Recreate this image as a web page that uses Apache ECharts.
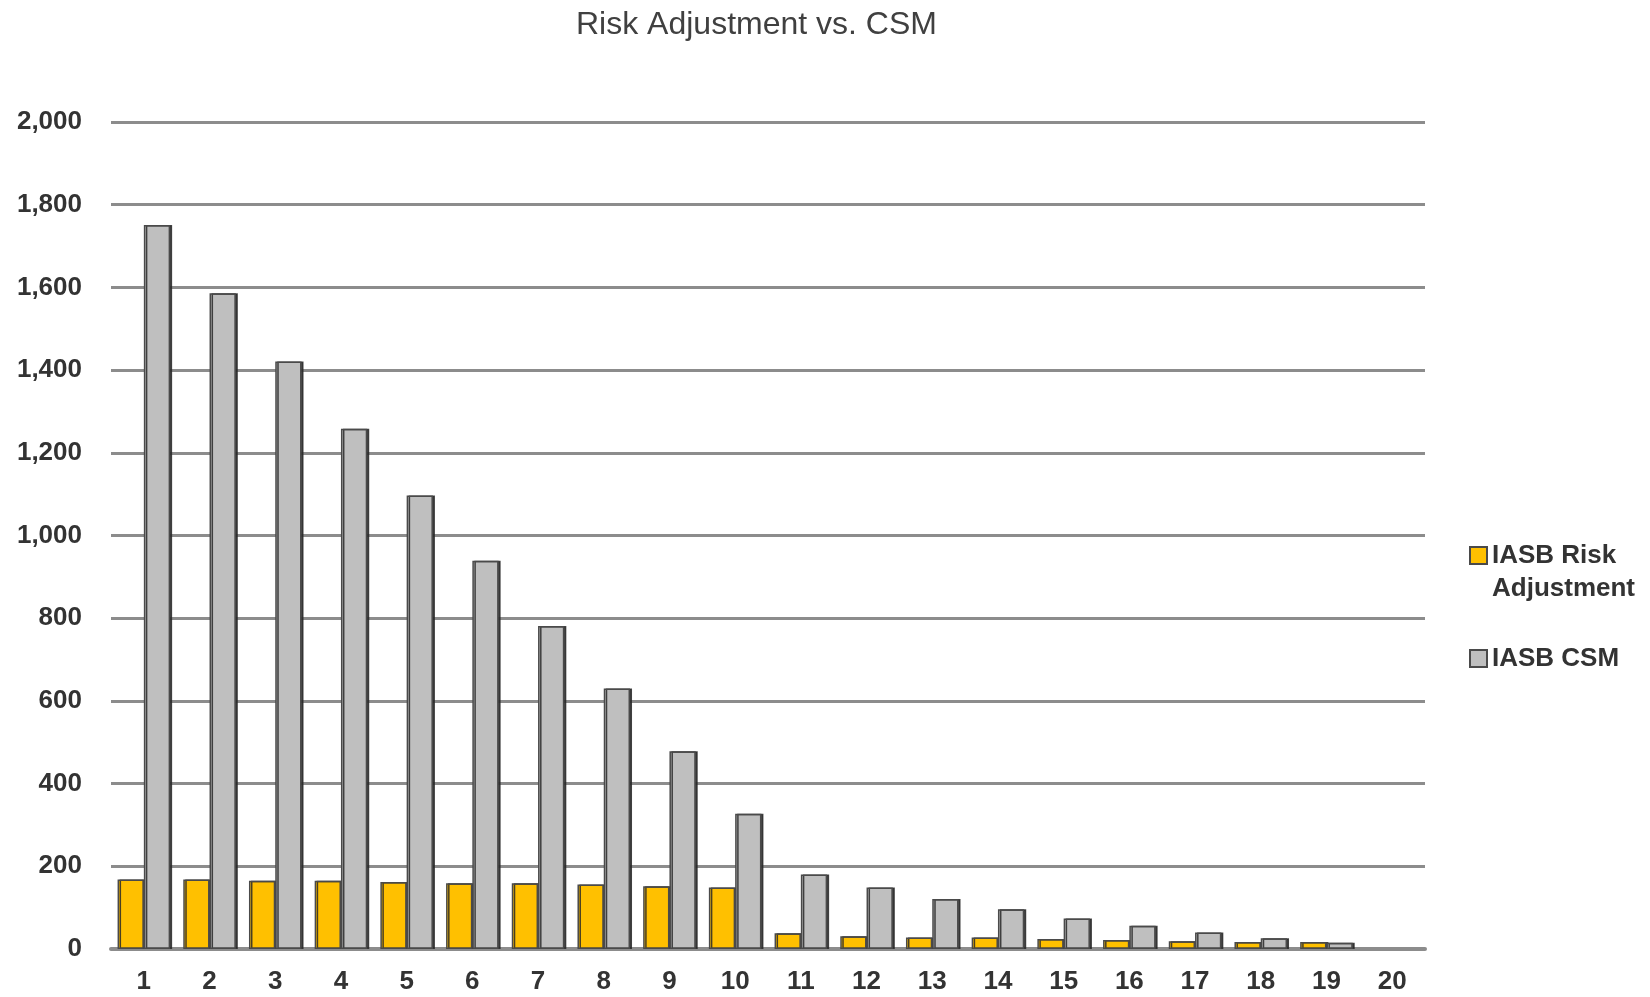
<!DOCTYPE html>
<html>
<head>
<meta charset="utf-8">
<script src="https://cdn.jsdelivr.net/npm/echarts@6/dist/echarts.min.js"></script>
<style>
html,body{margin:0;padding:0;background:#fff;}
#chart{width:1650px;height:997px;}
</style>
</head>
<body>
<div id="chart"></div>
<script>
const categories = ['1','2','3','4','5','6','7','8','9','10','11','12','13','14','15','16','17','18','19','20'];
const riskAdjustment = [168,168,165,165,162,159,159,156,152,149,38,31,28,28,24,22,19,17,17,null];
const csm = [1751,1586,1421,1258,1097,939,781,630,478,327,180,149,121,96,74,56,40,26,15,null];
const seriesNames = ['IASB Risk Adjustment', 'IASB CSM'];
const titleText = 'Risk Adjustment vs. CSM';

const FONT = '"Liberation Sans", Arial, sans-serif';
const chart = echarts.init(document.getElementById('chart'));

const barStyle = (color) => ({
  color: color,
  borderColor: '#4a4a4a',
  borderWidth: 1.5,
  shadowColor: 'rgba(40,40,40,0.85)',
  shadowOffsetX: 2,
  shadowOffsetY: 0,
  shadowBlur: 0
});

chart.setOption({
  animation: false,
  backgroundColor: '#ffffff',
  title: {
    text: titleText,
    left: 571,
    top: 4,
    textStyle: {fontFamily: FONT, fontSize: 32, fontWeight: 'normal', color: '#404040'}
  },
  legend: [
    {
      orient: 'vertical',
      left: 1469,
      top: 506,
      padding: 0,
      icon: 'rect',
      itemWidth: 17,
      itemHeight: 17,
      data: [seriesNames[0]],
      formatter: () => '\nIASB Risk\nAdjustment',
      textStyle: {fontFamily: FONT, fontSize: 26, fontWeight: 'bold', color: '#333', lineHeight: 33}
    },
    {
      orient: 'vertical',
      left: 1469,
      top: 642,
      padding: 0,
      icon: 'rect',
      itemWidth: 17,
      itemHeight: 17,
      data: [seriesNames[1]],
      textStyle: {fontFamily: FONT, fontSize: 26, fontWeight: 'bold', color: '#333', lineHeight: 33}
    }
  ],
  grid: {left: 111, right: 225, top: 122, bottom: 48, containLabel: false},
  xAxis: {
    type: 'category',
    data: categories,
    axisLine: {lineStyle: {color: '#8c8c8c', width: 4}},
    axisTick: {show: false},
    axisLabel: {fontFamily: FONT, fontSize: 26, fontWeight: 'bold', color: '#333', margin: 20}
  },
  yAxis: {
    type: 'value',
    min: 0,
    max: 2000,
    interval: 200,
    axisLine: {show: false},
    axisTick: {show: false},
    splitLine: {lineStyle: {color: '#8c8c8c', width: 3}},
    axisLabel: {
      fontFamily: FONT, fontSize: 26, fontWeight: 'bold', color: '#333', margin: 29,
      formatter: (v) => v.toLocaleString('en-US')
    }
  },
  series: [
    {
      name: seriesNames[0],
      type: 'bar',
      data: riskAdjustment,
      barGap: '0%',
      barCategoryGap: '20%',
      itemStyle: barStyle('#FFC000')
    },
    {
      name: seriesNames[1],
      type: 'bar',
      data: csm,
      barGap: '0%',
      barCategoryGap: '20%',
      itemStyle: barStyle('#BFBFBF')
    }
  ]
});
</script>
</body>
</html>
